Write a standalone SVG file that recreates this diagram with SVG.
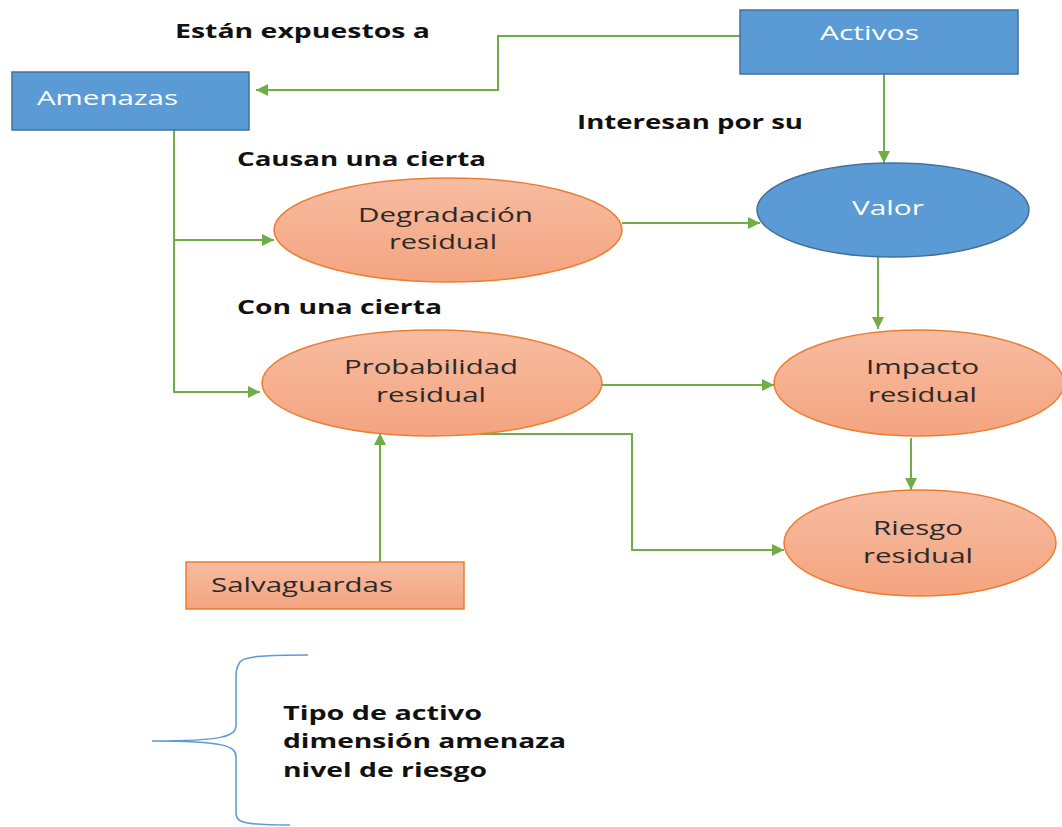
<svg xmlns="http://www.w3.org/2000/svg" width="1062" height="827" viewBox="0 0 1062 827">
<style>
.lbl{font-family:"Open Sans","Liberation Sans",sans-serif;font-weight:bold;font-size:20px;fill:#111}
.nt{font-family:"Open Sans","Liberation Sans",sans-serif;font-size:20px;fill:#2a2a2a}
.wt{font-family:"Open Sans","Liberation Sans",sans-serif;font-size:20px;fill:#fff}
.blue{fill:#5B9BD5;stroke:#41719C;stroke-width:1.5}
.org{fill:url(#og);stroke:#ED7D31;stroke-width:1.5}
.cn{fill:none;stroke:#70AD47;stroke-width:2}
</style>
<defs>
<linearGradient id="og" x1="0" y1="0" x2="0" y2="1">
<stop offset="0" stop-color="#F7BCA1"/>
<stop offset="1" stop-color="#F4A47F"/>
</linearGradient>
<marker id="ar" viewBox="0 0 10 10" refX="10" refY="5" markerWidth="7" markerHeight="6" markerUnits="strokeWidth" orient="auto">
<path d="M0,0 L10,5 L0,10 z" fill="#70AD47"/>
</marker>
</defs>
<rect width="1062" height="827" fill="#fff"/>
<g id="labels">
<text class="lbl" x="175" y="38" textLength="255" lengthAdjust="spacingAndGlyphs">Están expuestos a</text>
<text class="lbl" x="577" y="129" textLength="226" lengthAdjust="spacingAndGlyphs">Interesan por su</text>
<text class="lbl" x="237" y="166" textLength="249" lengthAdjust="spacingAndGlyphs">Causan una cierta</text>
<text class="lbl" x="237" y="314" textLength="205" lengthAdjust="spacingAndGlyphs">Con una cierta</text>
</g>
<g id="connectors">
<path class="cn" d="M740,36 H498 V90 H256" marker-end="url(#ar)"/>
<path class="cn" d="M884,74 V163" marker-end="url(#ar)"/>
<path class="cn" d="M174,130 V392 H260" marker-end="url(#ar)"/>
<path class="cn" d="M174,240 H274" marker-end="url(#ar)"/>
<path class="cn" d="M622,223 H760" marker-end="url(#ar)"/>
<path class="cn" d="M878,254 V329" marker-end="url(#ar)"/>
<path class="cn" d="M593,385 H774" marker-end="url(#ar)"/>
<path class="cn" d="M911,438 V490" marker-end="url(#ar)"/>
<path class="cn" d="M480,434 H632 V550 H784" marker-end="url(#ar)"/>
<path class="cn" d="M380,562 V433" marker-end="url(#ar)"/>
</g>
<g id="amenazas">
<rect class="blue" x="12" y="72" width="237" height="58"/>
<text class="wt" x="37" y="105" textLength="141" lengthAdjust="spacingAndGlyphs">Amenazas</text>
</g>
<g id="activos">
<rect class="blue" x="740" y="10" width="278" height="64"/>
<text class="wt" x="820" y="40" textLength="99" lengthAdjust="spacingAndGlyphs">Activos</text>
</g>
<g id="valor">
<ellipse class="blue" cx="893" cy="210" rx="136" ry="47"/>
<text class="wt" x="852" y="215" textLength="72" lengthAdjust="spacingAndGlyphs">Valor</text>
</g>
<g id="degradacion">
<ellipse class="org" cx="448" cy="230" rx="174" ry="52"/>
<text class="nt" x="358" y="222" textLength="175" lengthAdjust="spacingAndGlyphs">Degradación</text>
<text class="nt" x="389" y="249" textLength="108" lengthAdjust="spacingAndGlyphs">residual</text>
</g>
<g id="probabilidad">
<ellipse class="org" cx="432" cy="383" rx="170" ry="53"/>
<text class="nt" x="344" y="374" textLength="174" lengthAdjust="spacingAndGlyphs">Probabilidad</text>
<text class="nt" x="376" y="402" textLength="110" lengthAdjust="spacingAndGlyphs">residual</text>
</g>
<g id="impacto">
<ellipse class="org" cx="919" cy="383" rx="145" ry="53"/>
<text class="nt" x="866" y="374" textLength="113" lengthAdjust="spacingAndGlyphs">Impacto</text>
<text class="nt" x="868" y="402" textLength="109" lengthAdjust="spacingAndGlyphs">residual</text>
</g>
<g id="riesgo">
<ellipse class="org" cx="920" cy="543" rx="136" ry="53"/>
<text class="nt" x="873" y="535" textLength="90" lengthAdjust="spacingAndGlyphs">Riesgo</text>
<text class="nt" x="863" y="563" textLength="110" lengthAdjust="spacingAndGlyphs">residual</text>
</g>
<g id="salvaguardas">
<rect class="org" x="186" y="562" width="278" height="47"/>
<text class="nt" x="211" y="592" textLength="182" lengthAdjust="spacingAndGlyphs">Salvaguardas</text>
</g>
<g id="leyenda">
<path d="M308,655 C270,655 244,656 240,662 C236,668 236,672 236,680 V725 C236,736 225,741 152,741 C225,741 236,746 236,757 V812 C236,822 240,825 290,825" fill="none" stroke="#5B9BD5" stroke-width="1.5"/>
<text class="lbl" x="283" y="720" font-size="21" textLength="199" lengthAdjust="spacingAndGlyphs">Tipo de activo</text>
<text class="lbl" x="283" y="748" font-size="21" textLength="283" lengthAdjust="spacingAndGlyphs">dimensión amenaza</text>
<text class="lbl" x="283" y="777" font-size="21" textLength="204" lengthAdjust="spacingAndGlyphs">nivel de riesgo</text>
</g>
</svg>
